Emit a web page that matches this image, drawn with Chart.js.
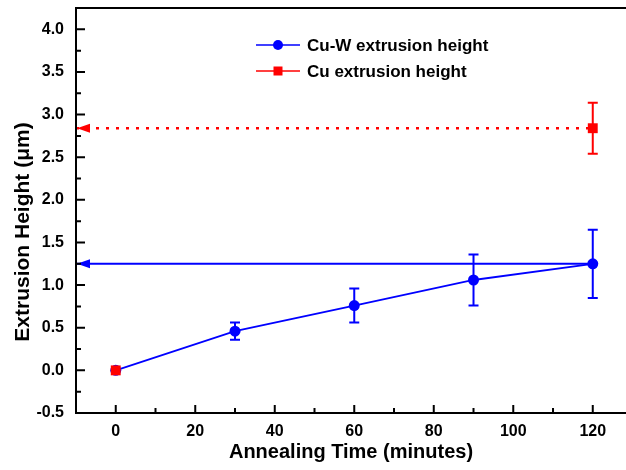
<!DOCTYPE html>
<html>
<head>
<meta charset="utf-8">
<script src="https://cdn.jsdelivr.net/npm/chart.js@4/dist/chart.umd.min.js"></script>
<style>
  html, body { margin: 0; padding: 0; background: #fff; overflow: hidden; }
  #wrap { width: 626px; height: 470px; position: relative; }
</style>
</head>
<body>
<div id="wrap"><canvas id="chart"></canvas></div>
<script>
// --- DATA ---
const cuwTime = [0, 30, 60, 90, 120];
const cuwHeight = [0, 0.46, 0.76, 1.06, 1.25];
const cuwError = [0, 0.10, 0.20, 0.30, 0.40];

const cuTime = [0, 120];
const cuHeight = [0, 2.84];
const cuError = [0, 0.30];

// horizontal arrows drawn back to the y axis from the 120 min values
const arrowStart = 120;
const cuwArrowLevel = 1.25;
const cuArrowLevel = 2.84;

const xMin = -10, xMax = 126.6;
const yMin = -0.5, yMax = 4.25;

const legendLabels = ["Cu-W extrusion height", "Cu extrusion height"];
const xTitle = "Annealing Time (minutes)";
const yTitle = "Extrusion Height (\u03bcm)";

const BLUE = "#0000ff";
const RED = "#ff0000";
const FONT = "'Liberation Sans', Arial, sans-serif";

function toPoints(xs, ys) {
  return xs.map((x, i) => ({ x: x, y: ys[i] }));
}

// no extra room for overflowing tick labels, the plot area is fixed
function noPad(s) {
  s.paddingTop = 0; s.paddingBottom = 0;
  s.paddingLeft = 0; s.paddingRight = 0;
}

// --- PLUGIN: frame, inward ticks, error bars, arrowheads, legend, titles ---
const decorPlugin = {
  id: "decor",
  afterDraw(chart) {
    const ctx = chart.ctx;
    const area = chart.chartArea;
    const xs = chart.scales.x, ys = chart.scales.y;
    ctx.save();

    // error bars
    function errBars(times, vals, errs, color) {
      ctx.strokeStyle = color;
      ctx.lineWidth = 2;
      times.forEach((t, i) => {
        if (!errs[i]) return;
        const px = xs.getPixelForValue(t);
        const top = ys.getPixelForValue(vals[i] + errs[i]);
        const bot = ys.getPixelForValue(vals[i] - errs[i]);
        ctx.beginPath();
        ctx.moveTo(px, top); ctx.lineTo(px, bot);
        ctx.moveTo(px - 5, top); ctx.lineTo(px + 5, top);
        ctx.moveTo(px - 5, bot); ctx.lineTo(px + 5, bot);
        ctx.stroke();
      });
    }
    errBars(cuwTime, cuwHeight, cuwError, BLUE);
    errBars(cuTime, cuHeight, cuError, RED);

    // arrowheads at the y axis
    function arrowHead(level, color) {
      const py = ys.getPixelForValue(level);
      const tip = area.left + 1;
      ctx.fillStyle = color;
      ctx.beginPath();
      ctx.moveTo(tip, py);
      ctx.lineTo(tip + 13, py - 4.5);
      ctx.lineTo(tip + 13, py + 4.5);
      ctx.closePath();
      ctx.fill();
    }
    arrowHead(cuwArrowLevel, BLUE);
    arrowHead(cuArrowLevel, RED);

    // frame (left, bottom, top)
    ctx.strokeStyle = "#000";
    ctx.lineWidth = 2;
    ctx.beginPath();
    ctx.moveTo(chart.width, area.top);
    ctx.lineTo(area.left, area.top);
    ctx.lineTo(area.left, area.bottom);
    ctx.lineTo(chart.width, area.bottom);
    ctx.stroke();

    // inward ticks
    ctx.beginPath();
    xs.ticks.forEach(t => {
      const px = xs.getPixelForValue(t.value);
      const len = (Math.round(t.value) % 20 === 0) ? 8 : 5;
      ctx.moveTo(px, area.bottom);
      ctx.lineTo(px, area.bottom - len);
    });
    ys.ticks.forEach(t => {
      const py = ys.getPixelForValue(t.value);
      if (py <= area.top + 1) return;
      const major = Math.abs(t.value * 2 - Math.round(t.value * 2)) < 1e-6;
      ctx.moveTo(area.left, py);
      ctx.lineTo(area.left + (major ? 9 : 5), py);
    });
    ctx.stroke();

    // legend
    const lx0 = 256, lx1 = 300, tx = 307;
    const rows = [{ y: 45, color: BLUE, marker: "circle" }, { y: 71, color: RED, marker: "square" }];
    ctx.font = "bold 17px " + FONT;
    ctx.textBaseline = "middle";
    ctx.textAlign = "left";
    rows.forEach((r, i) => {
      ctx.strokeStyle = r.color;
      ctx.fillStyle = r.color;
      ctx.lineWidth = 1.5;
      ctx.beginPath();
      ctx.moveTo(lx0, r.y); ctx.lineTo(lx1, r.y);
      ctx.stroke();
      const cx = (lx0 + lx1) / 2;
      ctx.beginPath();
      if (r.marker === "circle") ctx.arc(cx, r.y, 5, 0, Math.PI * 2);
      else ctx.rect(cx - 4.5, r.y - 4.5, 9, 9);
      ctx.fill();
      ctx.fillStyle = "#000";
      ctx.fillText(legendLabels[i], tx, r.y + 1);
    });

    // axis titles
    ctx.fillStyle = "#000";
    ctx.font = "bold 20px " + FONT;
    ctx.textAlign = "center";
    ctx.fillText(xTitle, (area.left + chart.width) / 2, 452);
    ctx.font = "bold 21px " + FONT;
    ctx.translate(23, 232);
    ctx.rotate(-Math.PI / 2);
    ctx.fillText(yTitle, 0, 0);

    ctx.restore();
  }
};

document.addEventListener("DOMContentLoaded", function () {
  const ctx = document.getElementById("chart").getContext("2d");
  new Chart(ctx, {
    type: "line",
    data: {
      datasets: [
        {
          label: legendLabels[1],
          data: toPoints(cuTime, cuHeight),
          showLine: false,
          pointStyle: "rect",
          pointRadius: 7,
          backgroundColor: RED,
          borderColor: RED,
          borderWidth: 0,
          order: 0
        },
        {
          label: legendLabels[0],
          data: toPoints(cuwTime, cuwHeight),
          borderColor: BLUE,
          backgroundColor: BLUE,
          borderWidth: 1.8,
          pointRadius: 5.5,
          pointBorderWidth: 0,
          order: 1
        },
        {
          label: "cu-w arrow",
          data: [{ x: xMin, y: cuwArrowLevel }, { x: arrowStart, y: cuwArrowLevel }],
          borderColor: BLUE,
          borderWidth: 2,
          pointRadius: 0,
          order: 2
        },
        {
          label: "cu arrow",
          data: [{ x: xMin, y: cuArrowLevel }, { x: arrowStart, y: cuArrowLevel }],
          borderColor: RED,
          borderWidth: 2.5,
          borderDash: [3, 7],
          pointRadius: 0,
          order: 3
        }
      ]
    },
    options: {
      responsive: true,
      maintainAspectRatio: false,
      animation: false,
      layout: { padding: { top: 8, right: 0, left: 0, bottom: 0 } },
      plugins: { legend: { display: false }, tooltip: { enabled: false } },
      scales: {
        x: {
          type: "linear",
          min: xMin,
          max: xMax,
          afterFit: s => { s.height = 57; noPad(s); },
          grid: { display: false, drawTicks: false },
          border: { display: false },
          afterBuildTicks: s => {
            const t = [];
            for (let v = 0; v <= 120; v += 10) t.push({ value: v });
            s.ticks = t;
          },
          ticks: {
            autoSkip: false,
            maxRotation: 0,
            padding: 9,
            color: "#000",
            font: { family: FONT, size: 16, weight: "bold" },
            callback: v => (Math.round(v) % 20 === 0 ? String(Math.round(v)) : "")
          }
        },
        y: {
          type: "linear",
          min: yMin,
          max: yMax,
          afterFit: s => { s.width = 76; noPad(s); },
          grid: { display: false, drawTicks: false },
          border: { display: false },
          ticks: {
            stepSize: 0.25,
            autoSkip: false,
            padding: 12,
            color: "#000",
            font: { family: FONT, size: 16, weight: "bold" },
            callback: v => (Math.abs(v * 2 - Math.round(v * 2)) < 1e-6 && v < 4.2 ? v.toFixed(1) : "")
          }
        }
      }
    },
    plugins: [decorPlugin]
  });
});
</script>
</body>
</html>
